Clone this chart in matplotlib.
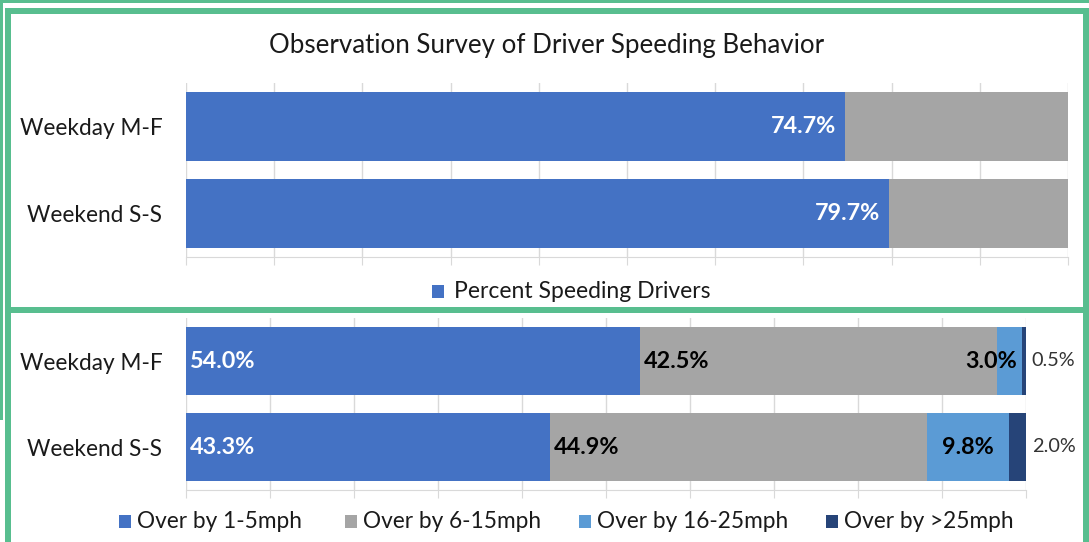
import matplotlib
matplotlib.use("Agg")
import matplotlib.pyplot as plt
from matplotlib.patches import Rectangle
import numpy as np

plt.rcParams['font.family'] = ['Lato', 'DejaVu Sans']

# ---- data ----
title = "Observation Survey of Driver Speeding Behavior"
categories = ["Weekday M-F", "Weekend S-S"]
pct_speeding = [74.7, 79.7]
top_legend = "Percent Speeding Drivers"

bands = ["Over by 1-5mph", "Over by 6-15mph", "Over by 16-25mph", "Over by >25mph"]
weekday_bands = [54.0, 42.5, 3.0, 0.5]
weekend_bands = [43.3, 44.9, 9.8, 2.0]

BLUE = "#4472C4"
GREY = "#A5A5A5"
LBLUE = "#5B9BD5"
DBLUE = "#264478"
GREEN = "#58BE8F"
GRID = "#D9D9D9"
band_colors = [BLUE, GREY, LBLUE, DBLUE]

W, H = 1089, 542
fig = plt.figure(figsize=(W / 100, H / 100), dpi=100)
fig.patch.set_facecolor("white")


def fx(x):
    return x / W


def fy(y):
    return 1 - y / H


def axes_px(left, top, right, bottom):
    return fig.add_axes([fx(left), fy(bottom), (right - left) / W, (bottom - top) / H])


def rect_px(x0, y0, x1, y1, color):
    fig.patches.append(Rectangle((fx(x0), fy(y1)), (x1 - x0) / W, (y1 - y0) / H,
                                 transform=fig.transFigure, color=color, lw=0, zorder=0))


def style_axes(ax):
    ax.set_xlim(0, 100)
    ax.set_ylim(1.5, -0.5)
    ax.set_xticks(np.arange(0, 101, 10))
    ax.xaxis.grid(True, color=GRID, lw=1)
    ax.set_axisbelow(True)
    ax.tick_params(axis='x', length=6, color=GRID, labelbottom=False)
    ax.tick_params(axis='y', length=0, pad=17, labelsize=16.3, labelcolor="#1a1a1a")
    for s in ["top", "left", "right"]:
        ax.spines[s].set_visible(False)
    ax.spines["bottom"].set_color(GRID)
    ax.set_yticks(range(len(categories)))
    ax.set_yticklabels(categories)
    ax.set_facecolor("none")


# ---- green frames ----
rect_px(0, 0, W, 3, GREEN)
rect_px(0, 0, 3, 420, GREEN)
rect_px(5, 8, W, 14, GREEN)
rect_px(5, 8, 11, H, GREEN)
rect_px(1083, 8, W, H, GREEN)
rect_px(5, 307, W, 313, GREEN)

LBL = 16.8

# ---- top chart ----
ax1 = axes_px(186, 83, 1068, 257)
style_axes(ax1)
y = np.arange(len(categories))
bar_h = 0.79
ax1.barh(y, pct_speeding, height=bar_h, color=BLUE)
rest = [100 - v for v in pct_speeding]
ax1.barh(y, rest, left=pct_speeding, height=bar_h, color=GREY)
for i, v in enumerate(pct_speeding):
    ax1.annotate(f"{v:.1f}%", (v, i), xytext=(-6, 0), textcoords="offset points",
                 ha="right", va="center", color="white", fontweight="bold", fontsize=LBL)

fig.text(fx(547), fy(45), title, ha="center", va="center", fontsize=18.6, color="#1a1a1a")
rect_px(432, 285, 444, 298, BLUE)
fig.text(fx(454), fy(292), top_legend, ha="left", va="center", fontsize=16.5, color="#1a1a1a")

# ---- bottom chart ----
ax2 = axes_px(186, 318, 1026, 490)
style_axes(ax2)
data = [weekday_bands, weekend_bands]
for i, row in enumerate(data):
    left = 0
    for j, v in enumerate(row):
        ax2.barh(i, v, left=left, height=bar_h, color=band_colors[j])
        left += v

for i, row in enumerate(data):
    cum = np.cumsum([0] + row)
    # segment 1: inside base, white
    ax2.annotate(f"{row[0]:.1f}%", (cum[0], i), xytext=(3, 0), textcoords="offset points",
                 ha="left", va="center", color="white", fontweight="bold", fontsize=LBL)
    # segment 2: inside base, black
    ax2.annotate(f"{row[1]:.1f}%", (cum[1], i), xytext=(3, 0), textcoords="offset points",
                 ha="left", va="center", color="black", fontweight="bold", fontsize=LBL)
    # segment 3: centered (kept inside the bar end)
    c3 = min((cum[2] + cum[3]) / 2, cum[3] - 3.6)
    ax2.annotate(f"{row[2]:.1f}%", (c3, i), ha="center", va="center",
                 color="black", fontweight="bold", fontsize=LBL)
    # segment 4: outside end
    ax2.annotate(f"{row[3]:.1f}%", (cum[4], i), xytext=(4, 0), textcoords="offset points",
                 ha="left", va="center", color="#333333", fontsize=14.3,
                 annotation_clip=False)

leg_x = [119, 345, 579, 826]
for lx, name, col in zip(leg_x, bands, band_colors):
    rect_px(lx, 515, lx + 12, 528, col)
    fig.text(fx(lx + 18), fy(521), name, ha="left", va="center", fontsize=16.3, color="#1a1a1a")

fig.savefig("out.png", dpi=100, facecolor="white")
